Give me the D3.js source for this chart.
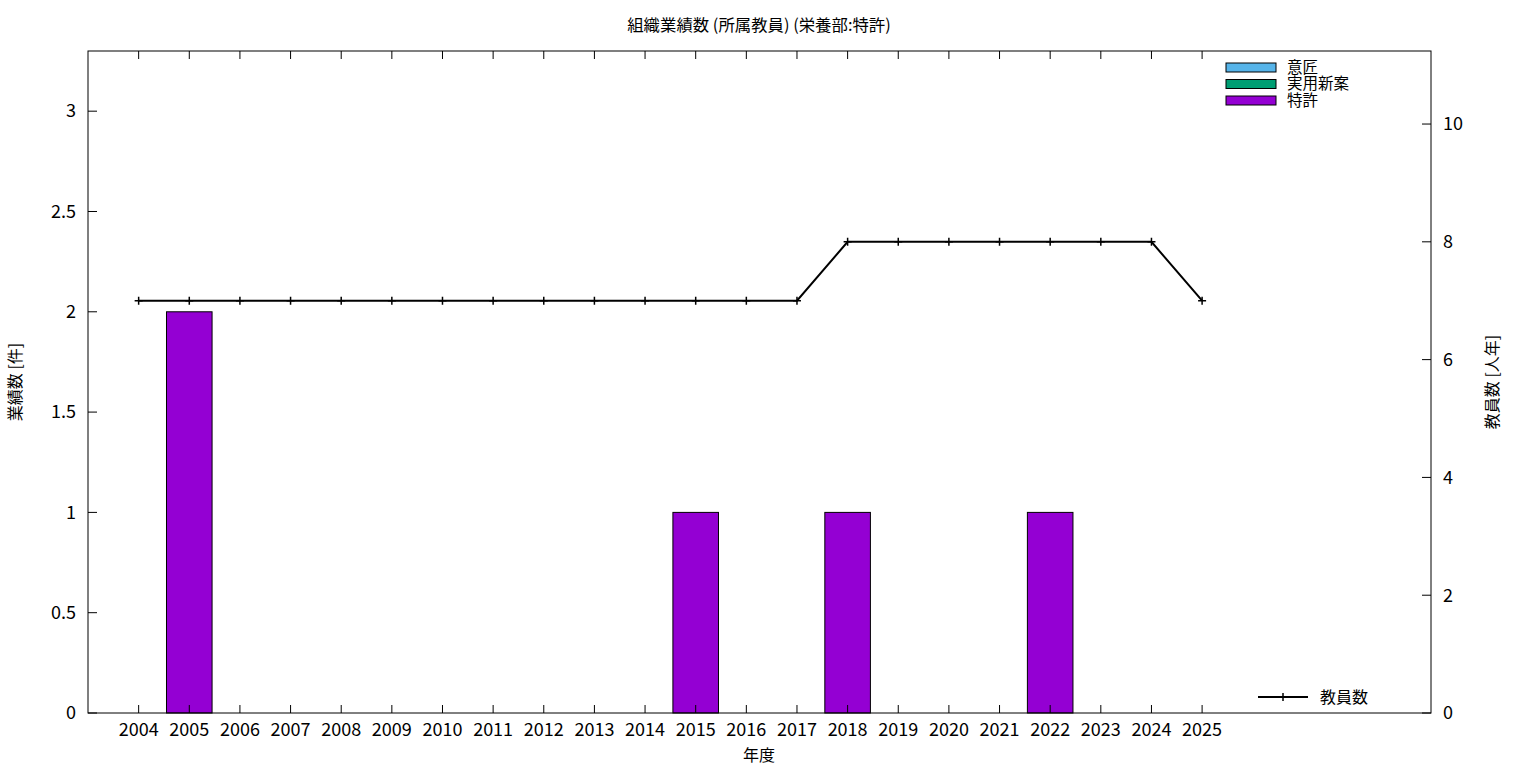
<!DOCTYPE html>
<html><head><meta charset="utf-8">
<script src="https://cdn.jsdelivr.net/npm/d3@7"></script>
<style>body{margin:0;background:#fff}svg{display:block}text{font-family:"Noto Sans CJK JP","Noto Sans",sans-serif;fill:#000}</style>
</head><body><svg id="c" width="1536" height="768"></svg>
<script>
const years = ["2004","2005","2006","2007","2008","2009","2010","2011","2012","2013","2014","2015","2016","2017","2018","2019","2020","2021","2022","2023","2024","2025"];
const design = [0,0,0,0,0,0,0,0,0,0,0,0,0,0,0,0,0,0,0,0,0,0];
const utility = [0,0,0,0,0,0,0,0,0,0,0,0,0,0,0,0,0,0,0,0,0,0];
const patent = [0,2,0,0,0,0,0,0,0,0,0,1,0,0,1,0,0,0,1,0,0,0];
const staff = [7,7,7,7,7,7,7,7,7,7,7,7,7,7,8,8,8,8,8,8,8,7];
const leftTicks = [0,0.5,1,1.5,2,2.5,3];
const leftTickLabels = ["0","0.5","1","1.5","2","2.5","3"];
const rightTicks = [0,2,4,6,8,10];
const seriesNames = ["意匠","実用新案","特許"];
const seriesColors = ["#56b4e9","#009e73","#9400d3"];

const svg = d3.select("#c");
const L=88,R=1431,T=51,B=713;
const x = d3.scaleLinear().domain([-1,25.52]).range([L,R]);
const y = d3.scaleLinear().domain([0,3.3]).range([B,T]);
const y2 = d3.scaleLinear().domain([0,11.24]).range([B,T]);
const bw = x(0.9)-x(0);

// bars stacked
const series=[design,utility,patent];
years.forEach((yr,i)=>{
  let base=0;
  series.forEach((s,k)=>{
    const v=s[i];
    if(v>0){
      svg.append("rect").attr("x",x(i)-bw/2).attr("width",bw)
        .attr("y",y(base+v)).attr("height",y(base)-y(base+v))
        .attr("fill",seriesColors[k]).attr("stroke","#000").attr("stroke-width",1);
    }
    base+=v;
  });
});

// border
svg.append("rect").attr("x",L).attr("y",T).attr("width",R-L).attr("height",B-T)
  .attr("fill","none").attr("stroke","#000").attr("stroke-width",1);

const fs=18;
// left axis
leftTicks.forEach((t,i)=>{
  svg.append("line").attr("x1",L).attr("x2",L+9).attr("y1",y(t)).attr("y2",y(t)).attr("stroke","#000");
  svg.append("text").attr("x",L-12).attr("y",y(t)).attr("dy","0.35em").attr("text-anchor","end")
    .attr("font-size",fs).text(leftTickLabels[i]);
});
// right axis
rightTicks.forEach(t=>{
  svg.append("line").attr("x1",R).attr("x2",R-9).attr("y1",y2(t)).attr("y2",y2(t)).attr("stroke","#000");
  svg.append("text").attr("x",R+12).attr("y",y2(t)).attr("dy","0.35em").attr("text-anchor","start")
    .attr("font-size",fs).text(String(t));
});
// x axis
years.forEach((yr,i)=>{
  svg.append("line").attr("x1",x(i)).attr("x2",x(i)).attr("y1",B).attr("y2",B-8).attr("stroke","#000");
  svg.append("line").attr("x1",x(i)).attr("x2",x(i)).attr("y1",T).attr("y2",T+8).attr("stroke","#000");
  svg.append("text").attr("x",x(i)).attr("y",B+23).attr("text-anchor","middle").attr("font-size",fs).text(yr);
});

// staff line
const line=d3.line().x((d,i)=>x(i)).y(d=>y2(d));
svg.append("path").datum(staff).attr("d",line).attr("fill","none").attr("stroke","#000").attr("stroke-width",2);
staff.forEach((d,i)=>{
  const cx=x(i),cy=y2(d);
  svg.append("path").attr("d",`M${cx-4},${cy}H${cx+4}M${cx},${cy-4}V${cy+4}`).attr("stroke","#000").attr("stroke-width",1.5);
});

// titles
svg.append("text").attr("x",759).attr("y",31).attr("text-anchor","middle").attr("font-size",16.4).text("組織業績数 (所属教員) (栄養部:特許)");
svg.append("text").attr("x",759).attr("y",761).attr("text-anchor","middle").attr("font-size",16).text("年度");
svg.append("text").attr("transform","translate(21,382) rotate(-90)").attr("text-anchor","middle").attr("font-size",16).text("業績数 [件]");
svg.append("text").attr("transform","translate(1498,382) rotate(-90)").attr("text-anchor","middle").attr("font-size",16).text("教員数 [人年]");

// legend
seriesNames.forEach((n,k)=>{
  const ly=67.5+k*16.5;
  svg.append("rect").attr("x",1226).attr("y",ly-4.5).attr("width",50).attr("height",9)
    .attr("fill",seriesColors[k]).attr("stroke","#000");
  svg.append("text").attr("x",1287).attr("y",ly).attr("dy","0.35em").attr("font-size",15.5).text(n);
});
svg.append("line").attr("x1",1258).attr("x2",1308).attr("y1",697).attr("y2",697).attr("stroke","#000").attr("stroke-width",2);
svg.append("path").attr("d","M1279,697H1287M1283,693V701").attr("stroke","#000").attr("stroke-width",1.5);
svg.append("text").attr("x",1320).attr("y",697).attr("dy","0.35em").attr("font-size",16).text("教員数");
</script></body></html>
